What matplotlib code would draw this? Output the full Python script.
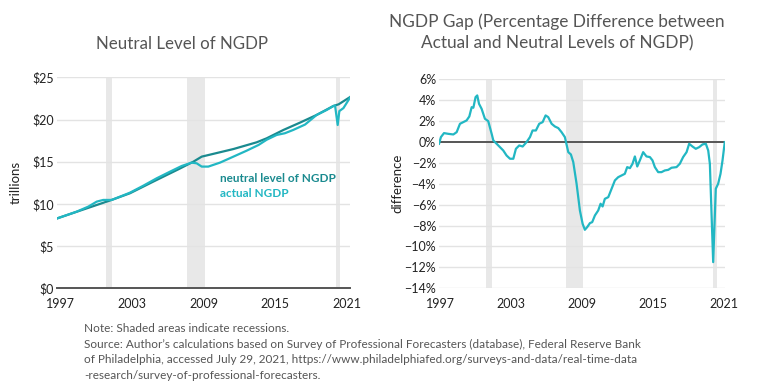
import matplotlib
matplotlib.use("Agg")
import matplotlib.pyplot as plt

plt.rcParams['font.family'] = ['Lato', 'DejaVu Sans']

# ---- Data ----
neutral_years = [1996.78, 1998.67, 2000.07, 2001.32, 2002.85, 2004.8, 2006.9, 2008.15,
                 2008.85, 2011.5, 2013.45, 2014.28, 2015.68, 2017.07, 2018.46, 2019.86,
                 2020.3, 2021.3]
neutral_level = [8.29, 9.2, 9.87, 10.47, 11.26, 12.64, 14.1, 15.0,
                 15.6, 16.5, 17.3, 17.77, 18.76, 19.63, 20.54, 21.6,
                 21.8, 22.7]

actual_years = [1996.78, 1998.39, 1999.37, 2000.07, 2000.62, 2001.32, 2002.02, 2002.85,
                2003.97, 2005.08, 2006.2, 2007.17, 2008.0, 2008.43, 2008.85, 2009.4,
                2010.38, 2011.5, 2012.6, 2013.6, 2014.28, 2015.12, 2015.8, 2016.5,
                2017.49, 2018.46, 2019.3, 2019.86, 2020.0, 2020.22, 2020.36, 2020.7, 2021.3]
actual_ngdp = [8.29, 9.08, 9.68, 10.27, 10.47, 10.47, 10.86, 11.33,
               12.16, 13.03, 13.82, 14.49, 14.89, 14.81, 14.42, 14.42,
               14.89, 15.6, 16.3, 16.98, 17.6, 18.17, 18.37, 18.76,
               19.4, 20.54, 21.13, 21.6, 21.65, 19.35, 21.0, 21.35, 22.7]

gap_years = [1996.92, 1997.08, 1997.34, 1997.70, 1998.13, 1998.41, 1998.69, 1998.97,
             1999.25, 1999.48, 1999.68, 1999.82, 2000.01, 2000.15, 2000.30, 2000.52,
             2000.80, 2001.08, 2001.37, 2001.51, 2001.79, 2002.07, 2002.35, 2002.63,
             2002.92, 2003.20, 2003.42, 2003.70, 2003.99, 2004.32, 2004.61, 2004.83,
             2005.11, 2005.39, 2005.68, 2005.93, 2006.15, 2006.44, 2006.72, 2007.00,
             2007.28, 2007.56, 2007.85, 2008.07, 2008.27, 2008.55, 2008.83, 2009.06,
             2009.25, 2009.45, 2009.68, 2009.87, 2010.10, 2010.38, 2010.58, 2010.75,
             2010.94, 2011.23, 2011.51, 2011.79, 2012.07, 2012.35, 2012.63, 2012.83,
             2013.06, 2013.28, 2013.48, 2013.68, 2013.90, 2014.18, 2014.46, 2014.75,
             2014.97, 2015.17, 2015.45, 2015.73, 2016.01, 2016.30, 2016.58, 2017.00,
             2017.28, 2017.56, 2017.85, 2018.07, 2018.35, 2018.63, 2018.92, 2019.20,
             2019.48, 2019.68, 2019.82, 2020.10, 2020.32, 2020.52, 2020.72, 2020.89,
             2021.08]
gap_pct = [-0.19, 0.45, 0.83, 0.76, 0.70, 0.92, 1.72, 1.88,
           2.04, 2.42, 3.31, 3.25, 4.27, 4.43, 3.63, 3.15,
           2.20, 1.97, 0.76, 0.13, -0.19, -0.51, -0.83, -1.31,
           -1.62, -1.62, -0.67, -0.35, -0.45, -0.03, 0.45, 1.08,
           1.08, 1.72, 1.88, 2.52, 2.36, 1.72, 1.46, 1.31,
           0.92, 0.45, -0.99, -1.21, -1.94, -4.01, -6.56, -7.83,
           -8.41, -8.15, -7.77, -7.68, -7.04, -6.56, -5.92, -6.18,
           -5.45, -5.29, -4.49, -3.69, -3.38, -3.22, -3.06, -2.42,
           -2.52, -2.10, -1.40, -2.36, -1.78, -0.99, -1.40, -1.46,
           -1.78, -2.42, -2.90, -2.90, -2.74, -2.68, -2.48, -2.42,
           -2.10, -1.46, -0.99, -0.19, -0.45, -0.67, -0.51, -0.25,
           -0.19, -0.83, -2.10, -11.50, -4.49, -4.01, -3.06, -1.78,
           -0.03]

recession_start = [2000.88, 2007.65, 2020.05]
recession_end = [2001.38, 2009.10, 2020.40]

x_ticks = [1997, 2003, 2009, 2015, 2021]
left_yticks = [0, 5, 10, 15, 20, 25]
left_ylabels = ['$0', '$5', '$10', '$15', '$20', '$25']
right_yticks = [6, 4, 2, 0, -2, -4, -6, -8, -10, -12, -14]
right_ylabels = ['6%', '4%', '2%', '0%', '\u22122%', '\u22124%', '\u22126%', '\u22128%',
                 '\u221210%', '\u221212%', '\u221214%']

# ---- Styles ----
c_neutral = '#1a8a8f'
c_actual = '#22b7c3'
c_grid = '#e3e3e3'
c_rec = '#e8e8e8'
c_text = '#222222'
c_title = '#555555'

W, H = 759, 391
fig = plt.figure(figsize=(W / 100, H / 100), dpi=100)

def frac(x0, y0, x1, y1):
    return [x0 / W, 1 - y1 / H, (x1 - x0) / W, (y1 - y0) / H]

axL = fig.add_axes(frac(57, 77.3, 350, 288.3))
axR = fig.add_axes(frac(438.8, 79, 725, 288.3))

for ax in (axL, axR):
    for s in ax.spines.values():
        s.set_visible(False)
    ax.tick_params(length=0, labelsize=9, colors=c_text, pad=2)
    for a, b in zip(recession_start, recession_end):
        ax.axvspan(a, b, color=c_rec, lw=0, zorder=0)
    ax.set_xticks(x_ticks)
    ax.set_xticklabels([str(t) for t in x_ticks])
    ax.tick_params(axis='x', pad=7)

# Left panel
axL.set_xlim(1996.75, 2021.25)
axL.set_ylim(0, 25)
axL.set_yticks(left_yticks)
axL.set_yticklabels(left_ylabels)
for v in left_yticks[1:]:
    axL.axhline(v, color=c_grid, lw=1, zorder=1)
axL.axhline(0, color='#555555', lw=1.4, zorder=3, clip_on=False)
axL.plot(neutral_years, neutral_level, color=c_neutral, lw=1.6, zorder=4)
axL.plot(actual_years, actual_ngdp, color=c_actual, lw=1.6, zorder=5)
axL.set_ylabel('trillions', fontsize=9.5, color=c_text, labelpad=8)
axL.text(0.555, 0.52, 'neutral level of NGDP', transform=axL.transAxes, color=c_neutral,
         fontsize=8.5, fontweight='bold', va='center')
axL.text(0.555, 0.45, 'actual NGDP', transform=axL.transAxes, color=c_actual,
         fontsize=8.5, fontweight='bold', va='center')

# Right panel
axR.set_xlim(1996.9, 2021.1)
axR.set_ylim(-14, 6)
axR.set_yticks(right_yticks)
axR.set_yticklabels(right_ylabels)
for v in right_yticks:
    if v != 0:
        axR.axhline(v, color=c_grid, lw=1, zorder=1)
axR.axhline(0, color='#555555', lw=1.4, zorder=3)
axR.plot(gap_years, gap_pct, color=c_actual, lw=1.6, zorder=4)
axR.set_ylabel('difference', fontsize=9.5, color=c_text, labelpad=1)

# Titles
fig.text(182 / W, 1 - 44 / H, 'Neutral Level of NGDP', ha='center', va='center',
         fontsize=12.2, color=c_title)
fig.text(557 / W, 1 - 22 / H, 'NGDP Gap (Percentage Difference between', ha='center',
         va='center', fontsize=12.4, color=c_title)
fig.text(557 / W, 1 - 43 / H, 'Actual and Neutral Levels of NGDP)', ha='center',
         va='center', fontsize=12.4, color=c_title)

# Notes
notes = [
    'Note: Shaded areas indicate recessions.',
    'Source: Author\u2019s calculations based on Survey of Professional Forecasters (database), Federal Reserve Bank',
    'of Philadelphia, accessed July 29, 2021, https://www.philadelphiafed.org/surveys-and-data/real-time-data',
    '-research/survey-of-professional-forecasters.',
]
for i, line in enumerate(notes):
    fig.text(84 / W, 1 - (329 + 15.4 * i) / H, line, ha='left', va='center',
             fontsize=8.5, color=c_title)

fig.savefig('out.png', dpi=100)
